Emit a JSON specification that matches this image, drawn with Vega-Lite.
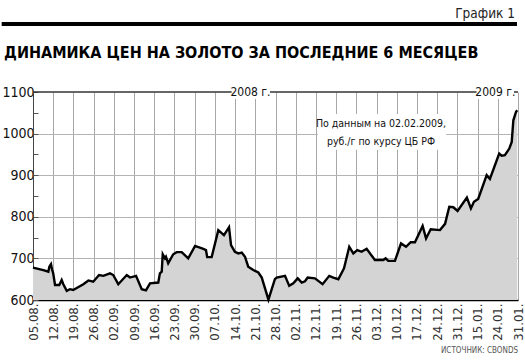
{
  "$schema": "https://vega.github.io/schema/vega-lite/v6.json",
  "width": 485,
  "height": 208,
  "autosize": {"type": "none"},
  "padding": {"left": 33, "top": 92, "right": 7, "bottom": 60},
  "background": "white",
  "config": {
    "view": {"stroke": null},
    "font": "DejaVu Sans Condensed"
  },
  "datasets": {
    "gold": [
      {"k":0,"v":678},{"k":0.51,"v":672},{"k":0.76,"v":668},{"k":0.81,"v":680},{"k":0.89,"v":686},{"k":0.94,"v":674},{"k":1.0,"v":664},{"k":1.09,"v":636},{"k":1.3,"v":636},{"k":1.42,"v":648},{"k":1.5,"v":638},{"k":1.67,"v":622},{"k":1.83,"v":626},{"k":1.99,"v":624},{"k":2.49,"v":638},{"k":2.74,"v":647},{"k":2.98,"v":644},{"k":3.27,"v":660},{"k":3.48,"v":658},{"k":3.81,"v":664},{"k":3.97,"v":660},{"k":4.22,"v":638},{"k":4.64,"v":660},{"k":4.8,"v":654},{"k":5.1,"v":658},{"k":5.38,"v":626},{"k":5.59,"v":623},{"k":5.79,"v":640},{"k":6.2,"v":642},{"k":6.28,"v":664},{"k":6.37,"v":668},{"k":6.42,"v":710},{"k":6.53,"v":700},{"k":6.58,"v":704},{"k":6.69,"v":688},{"k":6.94,"v":710},{"k":7.11,"v":715},{"k":7.36,"v":715},{"k":7.68,"v":700},{"k":8.02,"v":730},{"k":8.43,"v":723},{"k":8.56,"v":720},{"k":8.62,"v":703},{"k":8.84,"v":703},{"k":9.17,"v":768},{"k":9.45,"v":756},{"k":9.7,"v":775},{"k":9.8,"v":732},{"k":9.99,"v":716},{"k":10.16,"v":712},{"k":10.33,"v":714},{"k":10.49,"v":704},{"k":10.65,"v":680},{"k":10.9,"v":672},{"k":11.15,"v":666},{"k":11.32,"v":654},{"k":11.65,"v":601},{"k":11.97,"v":650},{"k":12.06,"v":654},{"k":12.47,"v":658},{"k":12.68,"v":634},{"k":12.88,"v":640},{"k":13.1,"v":652},{"k":13.3,"v":642},{"k":13.46,"v":645},{"k":13.59,"v":654},{"k":13.95,"v":652},{"k":14.33,"v":638},{"k":14.66,"v":658},{"k":14.86,"v":654},{"k":15.11,"v":650},{"k":15.39,"v":676},{"k":15.65,"v":728},{"k":15.85,"v":712},{"k":16.05,"v":720},{"k":16.26,"v":716},{"k":16.51,"v":723},{"k":16.92,"v":696},{"k":17.33,"v":696},{"k":17.45,"v":700},{"k":17.58,"v":694},{"k":17.91,"v":694},{"k":18.21,"v":736},{"k":18.46,"v":728},{"k":18.69,"v":739},{"k":18.9,"v":739},{"k":19.28,"v":778},{"k":19.45,"v":748},{"k":19.68,"v":770},{"k":20.14,"v":768},{"k":20.39,"v":783},{"k":20.6,"v":824},{"k":20.8,"v":823},{"k":21.01,"v":814},{"k":21.47,"v":846},{"k":21.67,"v":820},{"k":21.82,"v":836},{"k":22.03,"v":843},{"k":22.45,"v":900},{"k":22.61,"v":891},{"k":23.07,"v":952},{"k":23.19,"v":947},{"k":23.35,"v":948},{"k":23.57,"v":964},{"k":23.69,"v":980},{"k":23.77,"v":1032},{"k":23.9,"v":1052},{"k":23.96,"v":1056}
    ],
    "boxes": [
      {"k":9.85,"k2":11.68,"v":1117,"v2":1083},
      {"k":21.97,"k2":23.8,"v":1117,"v2":1083},
      {"k":14.1,"k2":20.44,"v":1047,"v2":961}
    ],
    "topline": [
      {"k":0,"k2":9.83,"v":1100},
      {"k":11.73,"k2":21.95,"v":1100},
      {"k":23.8,"k2":24,"v":1100}
    ],
    "years": [
      {"k":10.76,"v":1100,"t":"2008 г."},
      {"k":22.88,"v":1100,"t":"2009 г."}
    ],
    "note": [
      {"k":17.22,"v":1023,"t":"По данным на 02.02.2009,\nруб./г по курсу ЦБ РФ"}
    ],
    "header": [
      {"k":23.85,"v":1277,"t":"График 1"}
    ],
    "heading": [
      {"k":-1.43,"v":1181,"t":"ДИНАМИКА ЦЕН НА ЗОЛОТО ЗА ПОСЛЕДНИЕ 6 МЕСЯЦЕВ"}
    ],
    "source": [
      {"k":24,"v":472,"t":"ИСТОЧНИК: CBONDS"}
    ],
    "bar": [
      {"k":-1.55,"k2":23.95,"v":1263.7}
    ]
  },
  "encoding": {
    "x": {
      "field": "k", "type": "quantitative",
      "scale": {"domain": [0, 24], "nice": false, "zero": false},
      "axis": {
        "title": null,
        "values": [0,1,2,3,4,5,6,7,8,9,10,11,12,13,14,15,16,17,18,19,20,21,22,23,24],
        "labelExpr": "['05.08.','12.08.','19.08.','26.08.','02.09.','09.09.','16.09.','23.09.','30.09.','07.10.','14.10.','21.10.','28.10.','02.11.','12.11.','19.11.','26.11.','03.12.','10.12.','17.12.','24.12.','31.12.','15.01.','24.01.','31.01.'][datum.value]",
        "labelAngle": -90,
        "labelFontSize": 13,
        "labelColor": "#333333",
        "labelPadding": 3,
        "labelOverlap": false,
        "labelSeparation": 0,
        "labelFlush": false,
        "labelBound": false,
        "ticks": false,
        "domainColor": "#000000",
        "domainWidth": 1.5,
        "grid": true,
        "gridColor": "#a8a8a8",
        "gridWidth": 1
      }
    },
    "y": {
      "field": "v", "type": "quantitative",
      "scale": {"domain": [600, 1100], "nice": false, "zero": false},
      "axis": {
        "title": null,
        "values": [600,650,700,750,800,850,900,950,1000,1050,1100],
        "labelExpr": "datum.value % 100 === 0 ? datum.label : ''",
        "format": "d",
        "labelFontSize": 14,
        "labelColor": "#111111",
        "labelPadding": 4,
        "labelOverlap": false,
        "tickSize": -5,
        "tickColor": "#555555",
        "domainColor": "#444444",
        "domainWidth": 1,
        "grid": true,
        "gridColor": "#b4b4b4",
        "gridOpacity": {"condition": {"test": "datum.value % 100 !== 0 || datum.value === 1100", "value": 0}, "value": 1}
      }
    }
  },
  "layer": [
    {
      "data": {"name": "gold"},
      "mark": {"type": "area", "color": "#d4d4d4", "opacity": 1, "line": {"color": "#000000", "strokeWidth": 2.4, "strokeJoin": "miter"}},
      "encoding": {
        "y2": {"datum": 600}
      }
    },
    {
      "data": {"name": "boxes"},
      "mark": {"type": "rect", "color": "#ffffff", "opacity": 1},
      "encoding": {
        "x2": {"field": "k2"},
        "y2": {"field": "v2"}
      }
    },
    {
      "data": {"name": "topline"},
      "mark": {"type": "rule", "color": "#333333", "strokeWidth": 1.5},
      "encoding": {
        "x2": {"field": "k2"}
      }
    },
    {
      "data": {"name": "years"},
      "mark": {"type": "text", "fontSize": 12, "color": "#111111", "align": "center", "baseline": "middle"},
      "encoding": {
        "text": {"field": "t", "type": "nominal"}
      }
    },
    {
      "data": {"name": "note"},
      "mark": {"type": "text", "fontSize": 10.5, "color": "#111111", "align": "center", "baseline": "middle", "lineBreak": "\n", "lineHeight": 18},
      "encoding": {
        "text": {"field": "t", "type": "nominal"}
      }
    },
    {
      "data": {"name": "header"},
      "mark": {"type": "text", "fontSize": 13.5, "color": "#222222", "align": "right", "baseline": "alphabetic"},
      "encoding": {
        "text": {"field": "t", "type": "nominal"}
      }
    },
    {
      "data": {"name": "heading"},
      "mark": {"type": "text", "fontSize": 16, "fontWeight": "bold", "color": "#000000", "align": "left", "baseline": "alphabetic"},
      "encoding": {
        "text": {"field": "t", "type": "nominal"}
      }
    },
    {
      "data": {"name": "source"},
      "mark": {"type": "text", "fontSize": 8, "color": "#555555", "align": "right", "baseline": "alphabetic"},
      "encoding": {
        "text": {"field": "t", "type": "nominal"}
      }
    },
    {
      "data": {"name": "bar"},
      "mark": {"type": "rule", "color": "#000000", "strokeWidth": 4},
      "encoding": {
        "x2": {"field": "k2"}
      }
    }
  ]
}
